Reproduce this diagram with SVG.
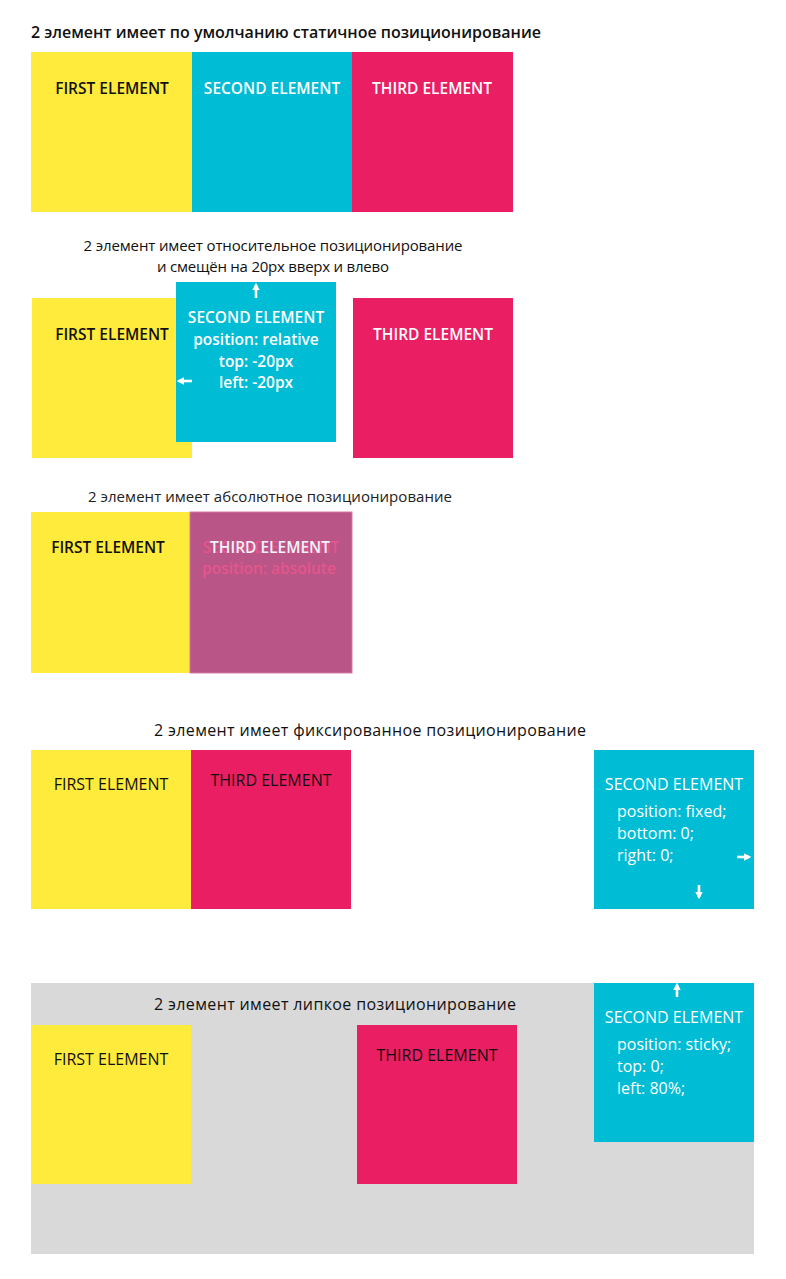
<svg xmlns="http://www.w3.org/2000/svg" width="786" height="1279" viewBox="0 0 786 1279">
<style>
text{font-family:"Open Sans","Noto Sans","Liberation Sans",sans-serif}
.title{font-size:15px;fill:#111}
.t1{font-size:16px;font-weight:600;fill:#111}
.lbl{font-size:15.5px;font-weight:600;text-anchor:middle}
.lbl2{font-size:16px;font-weight:400}
.dark{fill:#111}
.white{fill:#fff}
.yellow{fill:#ffeb3b}
.cyan{fill:#00bcd4}
.pink{fill:#e91e63}
.arrow{stroke:#fff;stroke-width:2.6;fill:none}
</style>
<defs>
<marker id="ah" viewBox="0 0 10 10" refX="7" refY="5" markerWidth="3" markerHeight="3" orient="auto">
<path d="M0,0 L10,5 L0,10 z" fill="#fff"/>
</marker>
</defs>
<rect width="786" height="1279" fill="#fff"/>

<!-- Section 1: static -->
<g id="s1-title"><text class="t1" x="31" y="38" textLength="510" lengthAdjust="spacing">2 элемент имеет по умолчанию статичное позиционирование</text></g>
<g id="s1-first"><rect class="yellow" x="31" y="52" width="161" height="160"/><text class="lbl dark" x="112" y="94">FIRST ELEMENT</text></g>
<g id="s1-second"><rect class="cyan" x="192" y="52" width="160" height="160"/><text class="lbl white" x="272" y="94">SECOND ELEMENT</text></g>
<g id="s1-third"><rect class="pink" x="352" y="52" width="161" height="160"/><text class="lbl white" x="432" y="94">THIRD ELEMENT</text></g>

<!-- Section 2: relative -->
<g id="s2-title">
<text class="title" x="273" y="251" text-anchor="middle" textLength="379" lengthAdjust="spacing">2 элемент имеет относительное позиционирование</text>
<text class="title" x="273" y="272" text-anchor="middle" textLength="232" lengthAdjust="spacing">и смещён на 20px вверх и влево</text>
</g>
<g id="s2-first"><rect class="yellow" x="32" y="298" width="160" height="160"/><text class="lbl dark" x="112" y="340">FIRST ELEMENT</text></g>
<g id="s2-third"><rect class="pink" x="353" y="298" width="160" height="160"/><text class="lbl white" x="433" y="340">THIRD ELEMENT</text></g>
<g id="s2-second"><rect class="cyan" x="176" y="282" width="160" height="160"/>
<text class="lbl white" x="256" y="323">SECOND ELEMENT</text>
<text class="lbl white" x="256" y="345">position: relative</text>
<text class="lbl white" x="256" y="367">top: -20px</text>
<text class="lbl white" x="256" y="388">left: -20px</text>
</g>

<!-- Section 3: absolute -->
<g id="s3-title"><text class="title" x="270" y="502" text-anchor="middle" textLength="364" lengthAdjust="spacing" style="fill:#222">2 элемент имеет абсолютное позиционирование</text></g>
<g id="s3-first"><rect class="yellow" x="31" y="512" width="159" height="161"/><text class="lbl dark" x="108" y="553">FIRST ELEMENT</text></g>
<g id="s3-second-third">
<rect x="190" y="512" width="162" height="161" fill="#b95587" stroke="#d77aa6" stroke-width="1"/>
<text class="lbl" x="271" y="553" style="fill:#e4568c">SECOND ELEMENT</text>
<text class="lbl" x="269" y="574" style="fill:#e4568c">position: absolute</text>
<text class="lbl" x="270" y="553" style="fill:#eef4fa">THIRD ELEMENT</text>
</g>

<!-- Section 4: fixed -->
<g id="s4-title"><text class="title" x="370" y="736" text-anchor="middle" textLength="432" lengthAdjust="spacing" style="font-size:16px">2 элемент имеет фиксированное позиционирование</text></g>
<g id="s4-first"><rect class="yellow" x="31" y="750" width="160" height="159"/><text class="lbl2 dark" x="111" y="790" text-anchor="middle">FIRST ELEMENT</text></g>
<g id="s4-third"><rect class="pink" x="191" y="750" width="160" height="159"/><text class="lbl2 dark" x="271" y="786" text-anchor="middle">THIRD ELEMENT</text></g>
<g id="s4-second"><rect class="cyan" x="594" y="750" width="160" height="159"/>
<text class="lbl2 white" x="674" y="790" text-anchor="middle">SECOND ELEMENT</text>
<text class="lbl2 white" x="617" y="817">position: fixed;</text>
<text class="lbl2 white" x="617" y="839">bottom: 0;</text>
<text class="lbl2 white" x="617" y="861">right: 0;</text>
</g>

<!-- Section 5: sticky -->
<rect x="31" y="983" width="723" height="271" fill="#d9d9d9"/>
<g id="s5-title"><text class="title" x="335" y="1010" text-anchor="middle" textLength="362" lengthAdjust="spacing" style="font-size:16px">2 элемент имеет липкое позиционирование</text></g>
<g id="s5-first"><rect class="yellow" x="31" y="1025" width="160" height="159"/><text class="lbl2 dark" x="111" y="1065" text-anchor="middle">FIRST ELEMENT</text></g>
<g id="s5-third"><rect class="pink" x="357" y="1025" width="160" height="159"/><text class="lbl2 dark" x="437" y="1061" text-anchor="middle">THIRD ELEMENT</text></g>
<g id="s5-second"><rect class="cyan" x="594" y="983" width="160" height="159"/>
<text class="lbl2 white" x="674" y="1023" text-anchor="middle">SECOND ELEMENT</text>
<text class="lbl2 white" x="617" y="1050">position: sticky;</text>
<text class="lbl2 white" x="617" y="1072">top: 0;</text>
<text class="lbl2 white" x="617" y="1094">left: 80%;</text>
</g>

<!-- Connectors (offset arrows) -->
<g id="connectors">
<line class="arrow" x1="256" y1="298" x2="256" y2="285" marker-end="url(#ah)"/>
<line class="arrow" x1="192" y1="381" x2="179" y2="381" marker-end="url(#ah)"/>
<line class="arrow" x1="737" y1="857" x2="749" y2="857" marker-end="url(#ah)"/>
<line class="arrow" x1="699" y1="885" x2="699" y2="897" marker-end="url(#ah)"/>
<line class="arrow" x1="677" y1="997" x2="677" y2="985" marker-end="url(#ah)"/>
</g>
</svg>
